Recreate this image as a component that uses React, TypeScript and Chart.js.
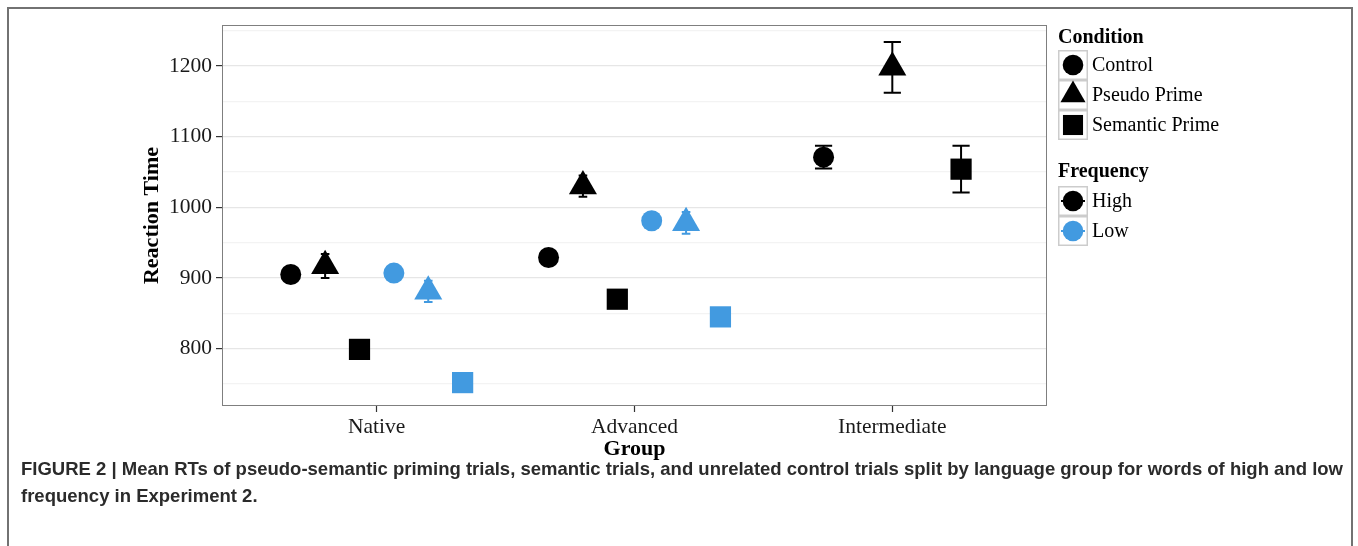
import React, { useEffect, useLayoutEffect, useRef } from 'react';
import { Chart, registerables } from 'chart.js';

Chart.register(...registerables);

// ---------- data ----------
const groups = ['Native', 'Advanced', 'Intermediate'];
const conditions = ['Control', 'Pseudo Prime', 'Semantic Prime'];
const frequencies = ['High', 'Low'];

const highControl = [905, 929, 1071];
const highControlErr = [8, 8, 16];
const highPseudo = [917, 1030, 1198];
const highPseudoErr = [17, 15, 36];
const highSemantic = [799, 870, 1054];
const highSemanticErr = [8, 8, 33];

const lowControl = [907, 981, null];
const lowControlErr = [8, 8, null];
const lowPseudo = [881, 978, null];
const lowPseudoErr = [15, 15.5, null];
const lowSemantic = [752, 845, null];
const lowSemanticErr = [8, 8, null];

const yTicks = [750, 800, 850, 900, 950, 1000, 1050, 1100, 1150, 1200, 1250];
const yLabelTicks = [800, 900, 1000, 1100, 1200];

const captionLine1 =
  'FIGURE 2 | Mean RTs of pseudo-semantic priming trials, semantic trials, and unrelated control trials split by language group for words of high and low';
const captionLine2 = 'frequency in Experiment 2.';

// ---------- styles ----------
const freqColors: Record<string, string> = { High: '#000000', Low: '#429ae0' };
const condStyle: Record<string, { style: string; radius: number }> = {
  Control: { style: 'circle', radius: 10.5 },
  'Pseudo Prime': { style: 'triangle', radius: 16.2 },
  'Semantic Prime': { style: 'rect', radius: 15 },
};
const SERIF = '"Liberation Serif", "Times New Roman", serif';

type Series = { freq: string; cond: string; means: (number | null)[]; errs: (number | null)[] };
const series: Series[] = [
  { freq: 'High', cond: 'Control', means: highControl, errs: highControlErr },
  { freq: 'High', cond: 'Pseudo Prime', means: highPseudo, errs: highPseudoErr },
  { freq: 'High', cond: 'Semantic Prime', means: highSemantic, errs: highSemanticErr },
  { freq: 'Low', cond: 'Control', means: lowControl, errs: lowControlErr },
  { freq: 'Low', cond: 'Pseudo Prime', means: lowPseudo, errs: lowPseudoErr },
  { freq: 'Low', cond: 'Semantic Prime', means: lowSemantic, errs: lowSemanticErr },
];

// position dodge (width 0.8) like ggplot
function buildDatasets() {
  return series.map((s) => {
    const data: any[] = [];
    groups.forEach((_, g) => {
      const v = s.means[g];
      if (v == null) return;
      const present = series.filter((t) => t.means[g] != null);
      const n = present.length;
      const idx = present.indexOf(s);
      const offset = -0.4 + (0.8 * (idx + 0.5)) / n;
      data.push({ x: g + offset, y: v, err: s.errs[g] ?? 0, n });
    });
    const cs = condStyle[s.cond];
    return {
      label: s.freq + ' ' + s.cond,
      data,
      pointStyle: cs.style,
      pointRadius: cs.radius,
      pointHoverRadius: cs.radius,
      pointBackgroundColor: freqColors[s.freq],
      pointBorderColor: freqColors[s.freq],
      pointBorderWidth: 0,
      showLine: false,
      _freq: s.freq,
    } as any;
  });
}

function drawShape(ctx: CanvasRenderingContext2D, style: string, x: number, y: number, r: number) {
  ctx.beginPath();
  if (style === 'circle') {
    ctx.arc(x, y, r, 0, Math.PI * 2);
  } else if (style === 'triangle') {
    ctx.moveTo(x, y - r);
    ctx.lineTo(x + 0.866 * r, y + 0.5 * r);
    ctx.lineTo(x - 0.866 * r, y + 0.5 * r);
    ctx.closePath();
  } else {
    const h = r * Math.SQRT1_2;
    ctx.rect(x - h, y - h, 2 * h, 2 * h);
  }
  ctx.fill();
}

const errorBarPlugin = {
  id: 'errorBars',
  beforeDatasetsDraw(chart: any) {
    const { ctx, scales } = chart;
    const xs = scales.x;
    const ys = scales.y;
    ctx.save();
    chart.data.datasets.forEach((ds: any) => {
      ctx.strokeStyle = freqColors[ds._freq];
      ctx.lineWidth = 2;
      ds.data.forEach((p: any) => {
        const px = xs.getPixelForValue(p.x);
        const half = Math.abs(xs.getPixelForValue(p.x + 0.1 / p.n) - px);
        const yTop = ys.getPixelForValue(p.y + p.err);
        const yBot = ys.getPixelForValue(p.y - p.err);
        ctx.beginPath();
        ctx.moveTo(px, yTop);
        ctx.lineTo(px, yBot);
        ctx.moveTo(px - half, yTop);
        ctx.lineTo(px + half, yTop);
        ctx.moveTo(px - half, yBot);
        ctx.lineTo(px + half, yBot);
        ctx.stroke();
      });
    });
    ctx.restore();
  },
};

const decorPlugin = {
  id: 'decor',
  afterDraw(chart: any) {
    const { ctx, chartArea } = chart;
    const { left, right, top, bottom } = chartArea;
    ctx.save();
    // panel border
    ctx.strokeStyle = '#7f7f7f';
    ctx.lineWidth = 1;
    ctx.strokeRect(left + 0.5, top + 0.5, right - left - 1, bottom - top - 1);

    // axis titles
    ctx.fillStyle = '#000';
    ctx.font = 'bold 22px ' + SERIF;
    ctx.textAlign = 'center';
    ctx.textBaseline = 'middle';
    ctx.fillText('Group', (left + right) / 2, 449);
    ctx.save();
    ctx.translate(152.5, (top + bottom) / 2);
    ctx.rotate(-Math.PI / 2);
    ctx.fillText('Reaction Time', 0, 0);
    ctx.restore();

    // legend
    const lx = 1058;
    const keyW = 30;
    const keyH = 30;
    ctx.textAlign = 'left';
    ctx.textBaseline = 'alphabetic';
    ctx.font = 'bold 20px ' + SERIF;
    ctx.fillText('Condition', lx, 42.5);
    ctx.fillText('Frequency', lx, 176.5);

    const drawKeyBox = (y: number) => {
      ctx.fillStyle = '#fff';
      ctx.fillRect(lx, y, keyW, keyH);
      ctx.strokeStyle = '#cccccc';
      ctx.lineWidth = 1.5;
      ctx.strokeRect(lx + 0.75, y + 0.75, keyW - 1.5, keyH - 1.5);
    };

    const keyRadius: Record<string, number> = { circle: 10.3, triangle: 14.5, rect: 14.2 };
    conditions.forEach((c, i) => {
      const y = 50 + i * keyH;
      drawKeyBox(y);
      const st = condStyle[c].style;
      ctx.fillStyle = '#000';
      drawShape(ctx, st, lx + keyW / 2, y + keyH / 2, keyRadius[st]);
      ctx.font = '20px ' + SERIF;
      ctx.textBaseline = 'middle';
      ctx.fillText(c, lx + 34, y + keyH / 2 + 1);
      ctx.textBaseline = 'alphabetic';
    });

    frequencies.forEach((f, i) => {
      const y = 186 + i * keyH;
      drawKeyBox(y);
      const col = freqColors[f];
      ctx.strokeStyle = col;
      ctx.lineWidth = 2;
      ctx.beginPath();
      ctx.moveTo(lx + 3, y + keyH / 2);
      ctx.lineTo(lx + keyW - 3, y + keyH / 2);
      ctx.stroke();
      ctx.fillStyle = col;
      drawShape(ctx, 'circle', lx + keyW / 2, y + keyH / 2, 10.3);
      ctx.fillStyle = '#000';
      ctx.font = '20px ' + SERIF;
      ctx.textBaseline = 'middle';
      ctx.fillText(f, lx + 34, y + keyH / 2 + 1);
      ctx.textBaseline = 'alphabetic';
    });
    ctx.restore();
  },
};

function ChartBox() {
  const ref = useRef<HTMLCanvasElement | null>(null);
  useEffect(() => {
    if (!ref.current) return;
    const chart = new Chart(ref.current, {
      type: 'scatter',
      data: { datasets: buildDatasets() },
      options: {
        animation: false,
        responsive: true,
        maintainAspectRatio: false,
        events: [],
        layout: { padding: { left: 0, top: 25, right: 311, bottom: 4 } },
        plugins: { legend: { display: false }, tooltip: { enabled: false }, title: { display: false } },
        scales: {
          x: {
            type: 'linear',
            min: -0.6,
            max: 2.6,
            afterBuildTicks: (scale: any) => {
              scale.ticks = groups.map((_, i) => ({ value: i }));
            },
            afterFit: (scale: any) => {
              scale.height = 60;
            },
            grid: {
              drawOnChartArea: false,
              drawTicks: true,
              tickLength: 6,
              tickColor: '#333333',
              tickWidth: 1.2,
            },
            border: { display: false },
            ticks: {
              autoSkip: false,
              maxRotation: 0,
              padding: 2,
              color: '#1a1a1a',
              font: { family: SERIF, size: 21.5 },
              callback: (v: any) => groups[Math.round(Number(v))] ?? '',
            },
          },
          y: {
            type: 'linear',
            min: 718.9,
            max: 1258,
            afterBuildTicks: (scale: any) => {
              scale.ticks = yTicks.map((v) => ({ value: v }));
            },
            afterFit: (scale: any) => {
              scale.width = 222;
            },
            grid: {
              drawTicks: true,
              tickLength: 6,
              color: (c: any) => (yLabelTicks.includes(c.tick?.value) ? '#e6e6e6' : '#f3f3f3'),
              tickColor: (c: any) => (yLabelTicks.includes(c.tick?.value) ? '#333333' : 'rgba(0,0,0,0)'),
              lineWidth: 1.2,
              tickWidth: 1.2,
            },
            border: { display: false },
            ticks: {
              autoSkip: false,
              padding: 4,
              color: '#1a1a1a',
              font: { family: SERIF, size: 21.5 },
              callback: (v: any) => (yLabelTicks.includes(Number(v)) ? String(v) : ''),
            },
          },
        },
      },
      plugins: [errorBarPlugin, decorPlugin],
    } as any);
    return () => chart.destroy();
  }, []);
  return (
    <div style={{ position: 'absolute', left: 0, top: 0, width: 1358, height: 470 }}>
      <canvas ref={ref} />
    </div>
  );
}

function Caption() {
  const l1 = useRef<HTMLSpanElement | null>(null);
  const l2 = useRef<HTMLSpanElement | null>(null);
  useLayoutEffect(() => {
    if (!l1.current || !l2.current) return;
    const w = l1.current.getBoundingClientRect().width;
    const s = w > 0 ? 1322 / w : 1;
    l1.current.style.transform = `scaleX(${s})`;
    l2.current.style.transform = `scaleX(${s})`;
  }, []);
  const lineStyle: React.CSSProperties = {
    display: 'inline-block',
    whiteSpace: 'nowrap',
    transformOrigin: '0 0',
  };
  return (
    <div
      style={{
        position: 'absolute',
        left: 21,
        top: 455,
        fontFamily: '"Liberation Sans", Arial, sans-serif',
        fontWeight: 'bold',
        fontSize: 18.5,
        lineHeight: '27px',
        color: '#2b2b2b',
      }}
    >
      <div>
        <span ref={l1} style={lineStyle}>{captionLine1}</span>
      </div>
      <div>
        <span ref={l2} style={lineStyle}>{captionLine2}</span>
      </div>
    </div>
  );
}

export default function App() {
  return (
    <div
      style={{
        position: 'absolute',
        left: 0,
        top: 0,
        width: 1358,
        height: 546,
        overflow: 'hidden',
        background: '#fff',
      }}
    >
      <div
        style={{
          position: 'absolute',
          left: 7,
          top: 7,
          width: 1346,
          height: 600,
          boxSizing: 'border-box',
          border: '2px solid #727272',
        }}
      />
      <ChartBox />
      <Caption />
    </div>
  );
}
